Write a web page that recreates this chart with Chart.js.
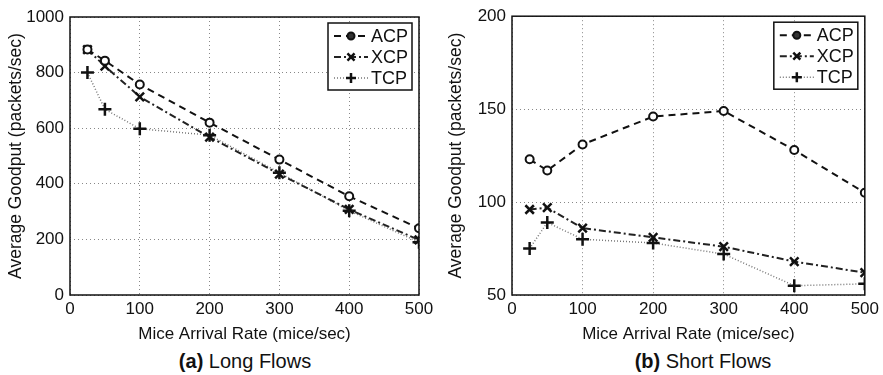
<!DOCTYPE html>
<html lang="en">
  <head>
    <meta charset="UTF-8" />
    <title>Average Goodput vs Mice Arrival Rate</title>
    <script src="https://cdn.jsdelivr.net/npm/chart.js@4.4.1/dist/chart.umd.min.js"></script>
    <style>
      body { margin: 0; background: #fff; width: 883px; height: 375px; position: relative; overflow: hidden; font-family: "Liberation Sans", Arial, sans-serif; }
      .wrap { position: absolute; top: 0; }
      .caption { position: absolute; top: 349px; font-size: 20px; line-height: 24px; color: #111; text-align: center; width: 300px; }
    </style>
  </head>
  <body>
    <div class="wrap" style="left:0;width:440px;height:345px"><canvas id="longChart" width="440" height="345"></canvas></div>
    <div class="wrap" style="left:440px;width:443px;height:345px"><canvas id="shortChart" width="443" height="345"></canvas></div>
    <div class="caption" style="left:95px"><b>(a)</b> Long Flows</div>
    <div class="caption" style="left:553px"><b>(b)</b> Short Flows</div>

    <script>
      // mice arrival rate (mice/sec)
      const rates = [25, 50, 100, 200, 300, 400, 500];
      const seriesNames = ['ACP', 'XCP', 'TCP'];

      // (a) long flows, goodput in packets/sec
      const longAcp = [883, 843, 757, 620, 487, 355, 240];
      const longXcp = [883, 823, 713, 568, 435, 308, 198];
      const longTcp = [800, 668, 598, 575, 440, 303, 190];

      // (b) short flows
      const shortAcp = [123, 117, 131, 146, 149, 128, 105];
      const shortXcp = [96, 97, 86, 81, 76, 68, 62];
      const shortTcp = [75, 89, 80, 78, 72, 55, 56];

      const font = "'Liberation Sans', Arial, sans-serif";
      Chart.defaults.font.family = font;
      Chart.defaults.color = '#111';

      const styles = [
        { borderColor: '#111', borderWidth: 2, borderDash: [7, 5], pointStyle: 'circle', pointRadius: 4, pointBorderWidth: 2, pointBackgroundColor: '#fff' },
        { borderColor: '#222', borderWidth: 2, borderDash: [7, 3, 2, 3], pointStyle: 'crossRot', pointRadius: 6, pointBorderWidth: 2.5, pointBackgroundColor: '#222' },
        { borderColor: '#777', borderWidth: 1.5, borderDash: [1, 2], pointStyle: 'cross', pointRadius: 6.5, pointBorderWidth: 2.5, pointBackgroundColor: '#111' }
      ];

      function points(vals) {
        return rates.map((r, i) => ({ x: r, y: vals[i] }));
      }

      // frame + legend box in the upper right corner of the plot
      const framePlugin = {
        id: 'frame',
        afterDatasetsDraw(chart) {
          const ctx = chart.ctx, a = chart.chartArea;
          ctx.save();
          ctx.strokeStyle = '#111';
          ctx.lineWidth = 1.5;
          ctx.setLineDash([]);
          ctx.strokeRect(a.left, a.top, a.right - a.left, a.bottom - a.top);

          const w = 84, h = 67;
          const bx = a.right - 7 - w, by = a.top + 6;
          ctx.fillStyle = '#fff';
          ctx.fillRect(bx, by, w, h);
          ctx.lineWidth = 1.5;
          ctx.strokeRect(bx, by, w, h);
          chart.data.datasets.forEach((ds, i) => {
            const y = by + 13 + i * 21;
            ctx.strokeStyle = ds.borderColor;
            ctx.lineWidth = ds.borderWidth;
            ctx.setLineDash(ds.borderDash);
            ctx.beginPath();
            ctx.moveTo(bx + 6, y);
            ctx.lineTo(bx + 40, y);
            ctx.stroke();
            ctx.setLineDash([]);
            ctx.strokeStyle = '#111';
            ctx.fillStyle = i === 0 ? '#333' : ds.pointBackgroundColor;
            ctx.lineWidth = ds.pointBorderWidth;
            Chart.helpers.drawPoint(ctx, { pointStyle: ds.pointStyle, radius: i === 0 ? 3.5 : 5, borderWidth: ds.pointBorderWidth }, bx + 23, y);
            ctx.fillStyle = '#111';
            ctx.font = '18px ' + font;
            ctx.textBaseline = 'middle';
            ctx.fillText(ds.label, bx + 43, y + 1);
          });
          ctx.restore();
        }
      };

      function makeChart(id, series, yMin, yMax, yStep, yWidth, padRight, padTop) {
        const ctx = document.getElementById(id).getContext('2d');
        return new Chart(ctx, {
          type: 'line',
          data: {
            datasets: series.map((vals, i) => Object.assign({
              label: seriesNames[i],
              data: points(vals),
              pointBorderColor: '#111',
              fill: false,
              tension: 0
            }, styles[i]))
          },
          options: {
            responsive: false,
            animation: false,
            layout: { padding: { left: 0, right: padRight, top: padTop, bottom: 0 } },
            plugins: { legend: { display: false }, tooltip: { enabled: false } },
            scales: {
              x: {
                type: 'linear',
                min: 0, max: 500,
                afterFit(scale) { scale.height = 50; },
                ticks: { stepSize: 100, padding: 4, font: { size: 17 }, color: '#111', callback: v => String(v) },
                grid: { color: '#888', lineWidth: 1, drawTicks: false },
                border: { display: false, dash: [1, 3] },
                title: { display: true, text: 'Mice Arrival Rate (mice/sec)', font: { size: 17 }, color: '#111', padding: { top: 4, bottom: 0 } }
              },
              y: {
                min: yMin, max: yMax,
                afterFit(scale) { scale.width = yWidth; },
                ticks: { stepSize: yStep, padding: 6, font: { size: 17 }, color: '#111', callback: v => String(v) },
                grid: { color: '#888', lineWidth: 1, drawTicks: false },
                border: { display: false, dash: [1, 3] },
                title: { display: true, text: 'Average Goodput (packets/sec)', font: { size: 17.5 }, color: '#111', padding: { top: 6, bottom: 0 } }
              }
            }
          },
          plugins: [framePlugin]
        });
      }

      makeChart('longChart', [longAcp, longXcp, longTcp], 0, 1000, 200, 70, 21, 17);
      makeChart('shortChart', [shortAcp, shortXcp, shortTcp], 50, 200, 50, 72, 15, 16);
    </script>
  </body>
</html>
